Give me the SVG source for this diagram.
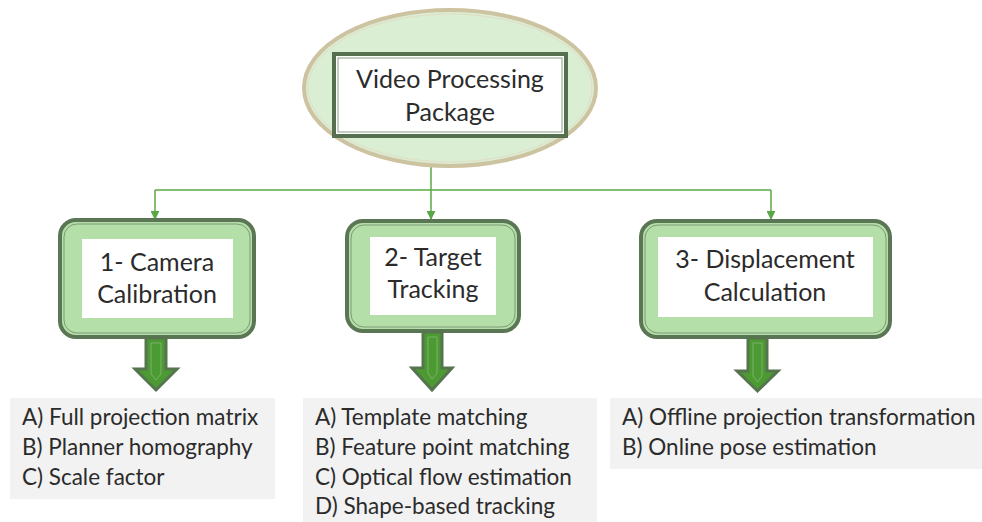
<svg xmlns="http://www.w3.org/2000/svg" width="982" height="522" viewBox="0 0 982 522">
<defs>
<style>
.t{font-family:Lato,"Liberation Sans",sans-serif;fill:#2b2b2b}
.nt{font-size:25px;text-anchor:middle}
.lt{font-size:22.5px}
.box{fill:#b5dfa8;stroke:#5a7654;stroke-width:4}
.boxin{fill:none;stroke:#7d9a76;stroke-width:1}
.white{fill:#ffffff}
.list{fill:#f2f2f2}
.conn{fill:none;stroke:#5aa845;stroke-width:1.5}
.barr{fill:#4c9a32;stroke:#56744e;stroke-width:3;stroke-linejoin:miter}
.barrin{fill:none;stroke:#7fb06f;stroke-width:1}
</style>
<marker id="ah" viewBox="0 0 10 10" refX="9" refY="5" markerWidth="9" markerHeight="9" markerUnits="userSpaceOnUse" orient="auto">
<path d="M0,0 L10,5 L0,10 z" fill="#5aa845"/>
</marker>
</defs>

<g id="connectors">
<path class="conn" d="M431,166 V219" marker-end="url(#ah)"/>
<path class="conn" d="M155,190 H771"/>
<path class="conn" d="M155,190 V219" marker-end="url(#ah)"/>
<path class="conn" d="M771,190 V219" marker-end="url(#ah)"/>
</g>

<g id="root">
<ellipse cx="450" cy="88" rx="146" ry="78" fill="#d9eed3" stroke="#cdc3a0" stroke-width="4"/>
<ellipse cx="450" cy="88" rx="142" ry="74" fill="none" stroke="#e4dcc4" stroke-width="1"/>
<rect x="334" y="54" width="232" height="82" fill="#ffffff" stroke="#56704f" stroke-width="4"/>
<rect x="338" y="58" width="224" height="74" fill="none" stroke="#8aa084" stroke-width="1"/>
<text class="t nt" x="450" y="88">Video Processing</text>
<text class="t nt" x="450" y="121">Package</text>
</g>

<g id="node1">
<rect class="box" x="60" y="220" width="194" height="117" rx="16"/>
<rect class="boxin" x="64" y="224" width="186" height="109" rx="13"/>
<rect class="white" x="82" y="239" width="151" height="79"/>
<text class="t nt" x="157" y="271">1- Camera</text>
<text class="t nt" x="157" y="303">Calibration</text>
<path class="barr" d="M146,338 H166 V369 H177 L156,390 L135,369 H146 Z"/>
<path class="barrin" d="M151,343 H161 V374 L156,380 L151,374 Z"/>
</g>

<g id="node2">
<rect class="box" x="347" y="221" width="172" height="110" rx="16"/>
<rect class="boxin" x="351" y="225" width="164" height="102" rx="13"/>
<rect class="white" x="370" y="237" width="126" height="78"/>
<text class="t nt" x="433" y="266">2- Target</text>
<text class="t nt" x="433" y="298">Tracking</text>
<path class="barr" d="M423,332 H442 V368 H452 L432,390 L412,368 H423 Z"/>
<path class="barrin" d="M428,337 H437 V373 L432,379 L428,373 Z"/>
</g>

<g id="node3">
<rect class="box" x="641" y="221" width="249" height="116" rx="16"/>
<rect class="boxin" x="645" y="225" width="241" height="108" rx="13"/>
<rect class="white" x="658" y="237" width="215" height="80"/>
<text class="t nt" x="765" y="268">3- Displacement</text>
<text class="t nt" x="765" y="301">Calculation</text>
<path class="barr" d="M748,338 H767 V371 H778 L757.5,391 L737,371 H748 Z"/>
<path class="barrin" d="M753,343 H762 V376 L757.5,382 L753,376 Z"/>
</g>

<g id="list1">
<rect class="list" x="10" y="398" width="265" height="101"/>
<text class="t lt" x="22" y="425">A) Full projection matrix</text>
<text class="t lt" x="22" y="455">B) Planner homography</text>
<text class="t lt" x="22" y="485">C) Scale factor</text>
</g>

<g id="list2">
<rect class="list" x="303" y="398" width="294" height="124"/>
<text class="t lt" x="315" y="425">A) Template matching</text>
<text class="t lt" x="315" y="455">B) Feature point matching</text>
<text class="t lt" x="315" y="485">C) Optical flow estimation</text>
<text class="t lt" x="315" y="514">D) Shape-based tracking</text>
</g>

<g id="list3">
<rect class="list" x="610" y="398" width="372" height="71"/>
<text class="t lt" x="622" y="425">A) Offline projection transformation</text>
<text class="t lt" x="622" y="455">B) Online pose estimation</text>
</g>
</svg>
